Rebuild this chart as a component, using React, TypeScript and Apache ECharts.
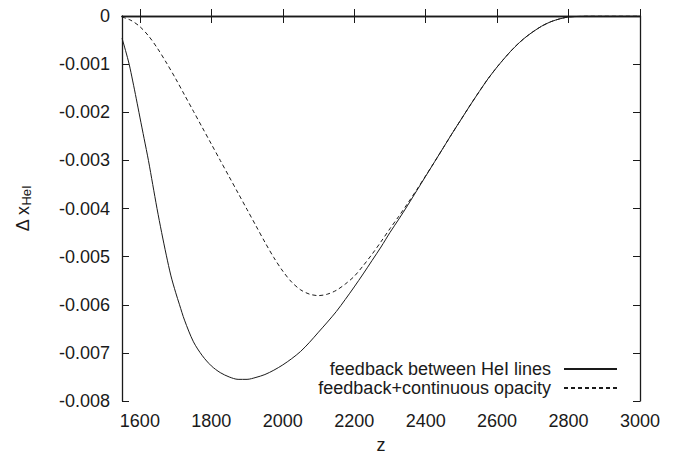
import React, { useEffect, useRef } from "react";
import * as echarts from "echarts";

const xTicks = [1600, 1800, 2000, 2200, 2400, 2600, 2800, 3000];

const solidZ = [1550, 1560, 1570, 1580, 1590, 1600, 1612, 1624, 1636, 1648, 1661, 1674, 1687, 1700, 1711, 1725, 1750, 1775, 1800, 1825, 1850, 1875, 1900, 1925, 1950, 1975, 2000, 2025, 2050, 2075, 2100, 2125, 2150, 2175, 2200, 2225, 2250, 2275, 2300, 2325, 2350, 2375, 2400, 2425, 2450, 2475, 2500, 2525, 2550, 2575, 2600, 2625, 2650, 2675, 2700, 2725, 2750, 2775, 2800, 2825, 2850, 2900, 3000];
const solidV = [-0.00046, -0.00072, -0.001, -0.00135, -0.00172, -0.0021, -0.00255, -0.003, -0.0035, -0.004, -0.0045, -0.00497, -0.0054, -0.00574, -0.006, -0.00632, -0.00677, -0.00706, -0.00727, -0.00741, -0.0075, -0.00755, -0.00755, -0.00751, -0.00745, -0.00736, -0.00725, -0.00712, -0.00697, -0.00678, -0.00657, -0.00636, -0.00614, -0.00589, -0.00563, -0.00536, -0.00508, -0.0048, -0.0045, -0.00422, -0.00393, -0.00363, -0.00333, -0.00303, -0.00273, -0.00243, -0.00214, -0.00185, -0.00157, -0.0013, -0.00106, -0.00084, -0.00064, -0.00047, -0.00033, -0.00021, -0.00012, -0.00006, -0.00002, -0.00001, 0, 0, 0];

const dashedZ = [1550, 1575, 1600, 1625, 1650, 1675, 1700, 1725, 1750, 1775, 1800, 1825, 1850, 1875, 1900, 1925, 1950, 1975, 2000, 2025, 2050, 2075, 2100, 2125, 2150, 2175, 2200, 2225, 2250, 2275, 2300, 2325, 2350, 2375, 2400, 2425, 2450, 2475, 2500, 2525, 2550, 2575, 2600, 2625, 2650, 2675, 2700, 2725, 2750, 2775, 2800, 2825, 2850, 2900, 3000];
const dashedV = [-0.00002, -0.00009, -0.00022, -0.00042, -0.00068, -0.00098, -0.0013, -0.00164, -0.00198, -0.00232, -0.00266, -0.003, -0.00334, -0.00368, -0.00402, -0.00436, -0.0047, -0.00502, -0.0053, -0.00553, -0.00569, -0.00578, -0.00581, -0.00578, -0.0057, -0.00557, -0.00541, -0.00519, -0.00495, -0.00469, -0.00442, -0.00416, -0.00389, -0.00361, -0.00332, -0.00303, -0.00273, -0.00243, -0.00214, -0.00185, -0.00157, -0.0013, -0.00106, -0.00084, -0.00064, -0.00047, -0.00033, -0.00021, -0.00012, -0.00006, -0.00002, -0.00001, 0, 0, 0];

const seriesNames = ["feedback between HeI lines", "feedback+continuous opacity"];

const FONT = '"Liberation Sans", Arial, Helvetica, sans-serif';
const INK = "#1a1a1a";

export default function App() {
  const ref = useRef<HTMLDivElement>(null);
  useEffect(() => {
    if (!ref.current) return;
    const chart = echarts.init(ref.current, undefined, { renderer: "svg" });
    const solid = solidZ.map((z, i) => [z, solidV[i]]);
    const dashed = dashedZ.map((z, i) => [z, dashedV[i]]);
    const axisLine = { show: true, lineStyle: { color: INK, width: 1.3 } };
    const tick = { show: true, inside: true, length: 7, lineStyle: { color: INK, width: 1 } };
    const legendBase = {
      right: 70,
      orient: "vertical",
      align: "right",
      itemWidth: 53,
      itemHeight: 14,
      padding: 0,
      itemStyle: { opacity: 0 },
      textStyle: { fontFamily: FONT, fontSize: 18, color: INK, padding: [0, 8, 0, 0] },
    };
    chart.setOption({
      animation: false,
      backgroundColor: "#ffffff",
      textStyle: { fontFamily: FONT },
      grid: { left: 122, right: 48, top: 16, bottom: 54, containLabel: false },
      legend: [
        { ...legendBase, data: [seriesNames[0]], top: 360 },
        { ...legendBase, data: [seriesNames[1]], top: 379 },
      ],
      xAxis: [
        {
          type: "value",
          min: 1550,
          max: 3000,
          name: "z",
          nameLocation: "middle",
          nameGap: 35,
          nameTextStyle: { fontFamily: FONT, fontSize: 18, color: INK },
          axisLine,
          axisTick: { ...tick, customValues: xTicks },
          axisLabel: {
            show: true,
            customValues: xTicks,
            fontFamily: FONT,
            fontSize: 18,
            color: INK,
            margin: 11,
            formatter: (v: number) => String(v),
          },
          splitLine: { show: false },
        },
        {
          type: "value",
          position: "top",
          min: 1550,
          max: 3000,
          axisLine,
          axisTick: { ...tick, customValues: xTicks },
          axisLabel: { show: false },
          splitLine: { show: false },
        },
      ],
      yAxis: [
        {
          type: "value",
          min: -0.008,
          max: 0,
          interval: 0.001,
          name: "{a|Δ x}{b|HeI}",
          nameLocation: "middle",
          nameGap: 89,
          nameRotate: 90,
          nameTextStyle: {
            fontFamily: FONT,
            color: INK,
            rich: {
              a: { fontFamily: FONT, fontSize: 18, lineHeight: 20, color: INK },
              b: { fontFamily: FONT, fontSize: 13, lineHeight: 8, verticalAlign: "bottom", color: INK },
            },
          },
          axisLine,
          axisTick: tick,
          axisLabel: {
            fontFamily: FONT,
            fontSize: 18,
            color: INK,
            margin: 12,
            formatter: (v: number) => (Math.abs(v) < 1e-12 ? "0" : v.toFixed(3)),
          },
          splitLine: { show: false },
        },
        {
          type: "value",
          position: "right",
          min: -0.008,
          max: 0,
          interval: 0.001,
          axisLine,
          axisTick: tick,
          axisLabel: { show: false },
          splitLine: { show: false },
        },
      ],
      series: [
        {
          name: seriesNames[0],
          type: "line",
          data: solid,
          smooth: 0.3,
          symbol: "none",
          xAxisIndex: 0,
          yAxisIndex: 0,
          lineStyle: { color: INK, width: 1, type: "solid" },
          itemStyle: { color: INK },
        },
        {
          name: seriesNames[1],
          type: "line",
          data: dashed,
          smooth: 0.3,
          symbol: "none",
          xAxisIndex: 0,
          yAxisIndex: 0,
          lineStyle: { color: INK, width: 1, type: [4, 3] },
          itemStyle: { color: INK },
        },
      ],
    });
    return () => chart.dispose();
  }, []);
  return <div ref={ref} style={{ position: "fixed", left: 0, top: 0, width: 688, height: 459 }} />;
}
